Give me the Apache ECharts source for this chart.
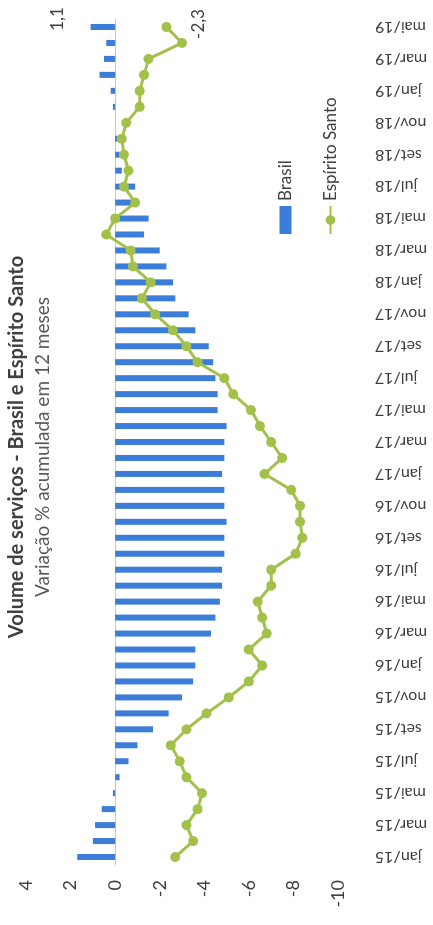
<!DOCTYPE html>
<html>
<head>
<meta charset="utf-8">
<script src="https://cdn.jsdelivr.net/npm/echarts@6/dist/echarts.min.js"></script>
<style>
  html, body { margin: 0; padding: 0; width: 433px; height: 925px; overflow: hidden; background: #fff; }
  /* the chart is drawn landscape and turned a quarter turn counter-clockwise */
  #container {
    position: absolute; left: 0; top: 0;
    width: 925px; height: 433px;
    transform-origin: 0 0;
    transform: translate(0, 925px) rotate(-90deg);
  }
</style>
</head>
<body>
<div id="container"></div>
<script>
// meses (eixo de categorias)
var months = [
    'jan/15', 'fev/15', 'mar/15', 'abr/15', 'mai/15', 'jun/15', 'jul/15', 'ago/15', 'set/15', 'out/15', 'nov/15', 'dez/15',
    'jan/16', 'fev/16', 'mar/16', 'abr/16', 'mai/16', 'jun/16', 'jul/16', 'ago/16', 'set/16', 'out/16', 'nov/16', 'dez/16',
    'jan/17', 'fev/17', 'mar/17', 'abr/17', 'mai/17', 'jun/17', 'jul/17', 'ago/17', 'set/17', 'out/17', 'nov/17', 'dez/17',
    'jan/18', 'fev/18', 'mar/18', 'abr/18', 'mai/18', 'jun/18', 'jul/18', 'ago/18', 'set/18', 'out/18', 'nov/18', 'dez/18',
    'jan/19', 'fev/19', 'mar/19', 'abr/19', 'mai/19'
];

// variação % acumulada em 12 meses
var brasil = [
    1.7, 1.0, 0.9, 0.6, 0.1, -0.2, -0.6, -1.0, -1.7, -2.4, -3.0, -3.5,
    -3.6, -3.6, -4.3, -4.5, -4.7, -4.8, -4.8, -4.9, -4.9, -5.0, -4.9, -4.9,
    -4.8, -4.9, -4.9, -5.0, -4.6, -4.6, -4.5, -4.4, -4.2, -3.6, -3.3, -2.7,
    -2.6, -2.3, -2.0, -1.3, -1.5, -1.0, -0.9, -0.3, -0.2, -0.1, 0.0, 0.1,
    0.2, 0.7, 0.5, 0.4, 1.1
];
var espiritoSanto = [
    -2.7, -3.5, -3.2, -3.7, -3.9, -3.2, -2.9, -2.5, -3.2, -4.1, -5.1, -6.0,
    -6.6, -6.0, -6.8, -6.6, -6.4, -7.0, -7.0, -8.1, -8.4, -8.3, -8.3, -7.9,
    -6.7, -7.5, -7.0, -6.5, -6.1, -5.3, -4.9, -3.7, -3.2, -2.6, -1.8, -1.2,
    -1.6, -0.8, -0.7, 0.4, 0.0, -0.9, -0.4, -0.6, -0.4, -0.3, -0.5, -1.1,
    -1.1, -1.3, -1.5, -3.0, -2.3
];

var FONT = 'Lato, "Open Sans", sans-serif';

function virgula(p) {
    return String(p.value).replace('.', ',');
}

// só o último ponto de cada série leva rótulo
function withLastLabel(arr, label) {
    return arr.map(function(v, i) {
        if (i === arr.length - 1) {
            return { value: v, label: label };
        }
        return v;
    });
}

var option = {
    backgroundColor: '#fff',
    title: {
        text: 'Volume de serviços - Brasil e Espírito Santo',
        subtext: 'Variação % acumulada em 12 meses',
        // left é o ponto central quando textAlign = center
        left: 473,
        textAlign: 'center',
        top: 2,
        itemGap: 6,
        textStyle: { fontFamily: FONT, fontSize: 20, fontWeight: 'bold', color: '#404040' },
        subtextStyle: { fontFamily: FONT, fontSize: 19, color: '#595959' }
    },
    legend: {
        orient: 'vertical',
        left: 685,
        top: 272,
        itemGap: 28,
        itemWidth: 28,
        itemHeight: 12,
        textStyle: { fontFamily: FONT, fontSize: 17, color: '#404040' },
        data: [{ name: 'Brasil', icon: 'rect' }, { name: 'Espírito Santo' }]
    },
    grid: { left: 60, right: 19, top: 26, bottom: 95 },
    xAxis: [{
        type: 'category',
        data: months,
        position: 'bottom',
        axisLine: { show: false, onZero: false },
        axisTick: { show: false },
        axisLabel: { interval: 1, rotate: 90, margin: 37, fontFamily: FONT, fontSize: 16, color: '#404040' }
    }, {
        // linha do zero com as marcas a cada 2 meses
        type: 'category',
        data: months,
        position: 'bottom',
        axisLine: { onZero: true, lineStyle: { color: '#c8c8c8', width: 1 } },
        axisTick: { interval: 1, length: 5, lineStyle: { color: '#c8c8c8' } },
        axisLabel: { show: false }
    }],
    yAxis: {
        type: 'value',
        min: -10,
        max: 4,
        interval: 2,
        axisLine: { show: false },
        axisTick: { show: false },
        splitLine: { show: false },
        axisLabel: { margin: 15, fontFamily: FONT, fontSize: 18, color: '#404040' }
    },
    series: [{
        name: 'Brasil',
        type: 'bar',
        barWidth: 6,
        itemStyle: { color: '#3b7dd8' },
        data: withLastLabel(brasil, {
            show: true, position: 'top', offset: [8, -20], formatter: virgula,
            fontFamily: FONT, fontSize: 17, color: '#404040'
        })
    }, {
        name: 'Espírito Santo',
        type: 'line',
        symbol: 'circle',
        symbolSize: 10,
        lineStyle: { color: '#a3c14a', width: 3 },
        itemStyle: { color: '#a3c14a' },
        data: withLastLabel(espiritoSanto, {
            show: true, position: 'bottom', offset: [3, 14], formatter: virgula,
            fontFamily: FONT, fontSize: 17, color: '#404040'
        })
    }]
};

function draw() {
    var myChart = echarts.init(document.getElementById('container'));
    myChart.setOption(option);
}

window.addEventListener('load', draw, false);
</script>
</body>
</html>
